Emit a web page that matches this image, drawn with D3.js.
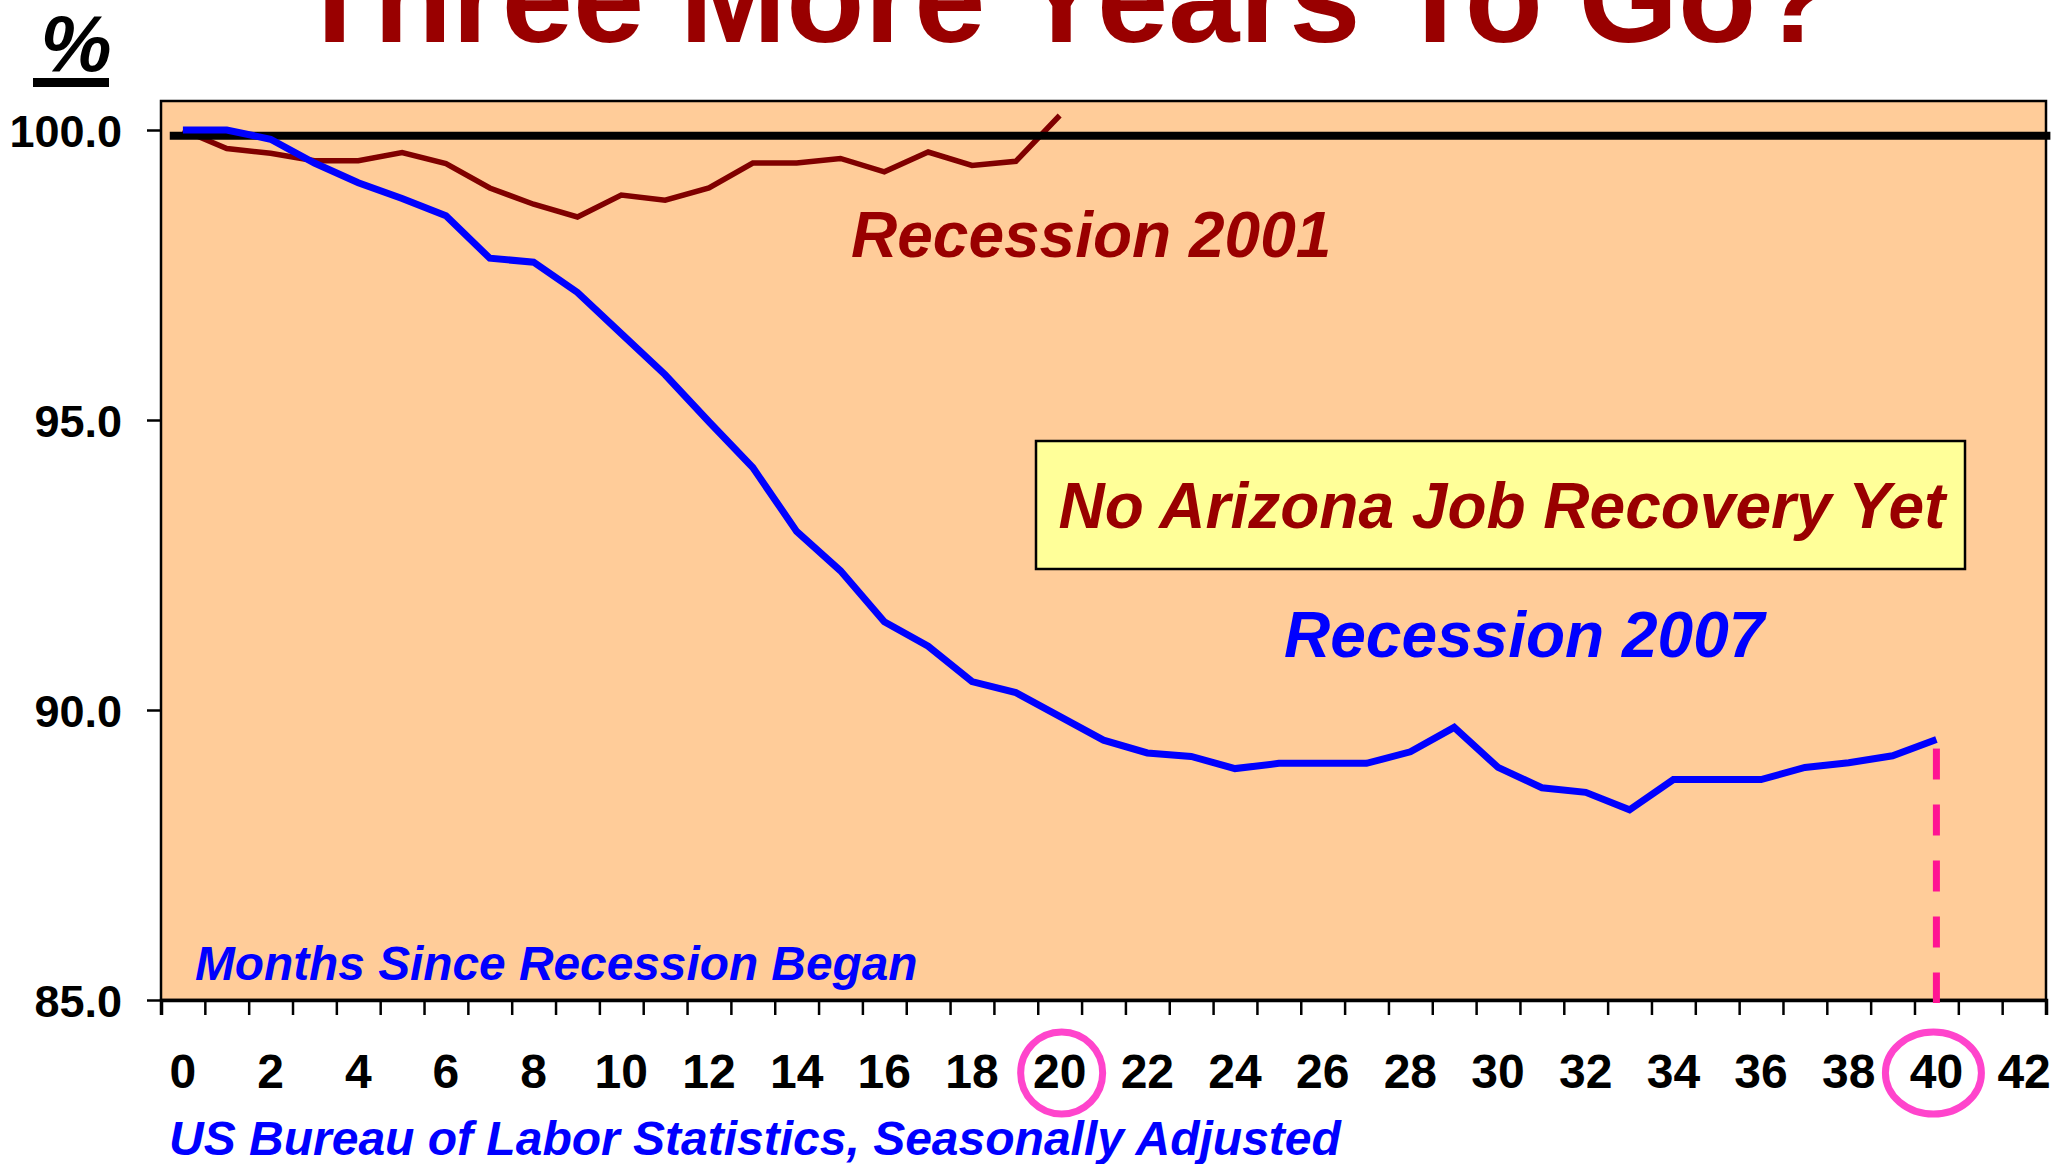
<!DOCTYPE html>
<html lang="en">
<head>
    <meta charset="UTF-8">
    <title>Three More Years To Go?</title>
    <style>
body {
    margin: 0;
    background: #ffffff;
    font-family: 'Liberation Sans', Arial, sans-serif;
}

#chart {
    display: block;
}

.tick-label {
    font-weight: bold;
    fill: #000;
}

.note {
    font-weight: bold;
    font-style: italic;
}
    </style>
    <script src="https://d3js.org/d3.v7.min.js"></script>
</head>
<body>

    <svg id="chart" width="2069" height="1164"></svg>

    <script>
        // Arizona jobs, % of level at start of recession, by month since it began
        const recession2007 = [100.0, 100.0, 99.84, 99.43, 99.09, 98.82, 98.52, 97.79, 97.72, 97.2,
            96.49, 95.78, 94.97, 94.18, 93.08, 92.4, 91.52, 91.1, 90.49, 90.3,
            89.89, 89.48, 89.26, 89.2, 88.99, 89.08, 89.08, 89.08, 89.28, 89.7,
            89.01, 88.66, 88.58, 88.28, 88.8, 88.8, 88.8, 89.01, 89.09, 89.21, 89.49];
        const recession2001 = [100.0, 99.68, 99.6, 99.47, 99.47, 99.61, 99.42, 99.0, 98.72, 98.5,
            98.88, 98.79, 99.0, 99.43, 99.43, 99.51, 99.28, 99.62, 99.39, 99.46, 100.25];
        const baseLevel = 99.9;
        const xTickLabels = [0, 2, 4, 6, 8, 10, 12, 14, 16, 18, 20, 22, 24, 26, 28, 30, 32, 34, 36, 38, 40, 42];
        const circledMonths = [20, 40];
        const lastMonth = 40;
        const yTicks = [85, 90, 95, 100];

        const svg = d3.select("#chart");

        const plotLeft = 161, plotRight = 2046, plotTop = 101, plotBottom = 1000;

        const x = d3.scaleLinear().domain([-0.5, 42.5]).range([plotLeft, plotRight]);
        const y = d3.scaleLinear().domain([85, 100.5]).range([plotBottom, plotTop]);

        // title (runs off the top of the slide)
        svg.append("text")
            .attr("x", 1065)
            .attr("y", 42)
            .attr("text-anchor", "middle")
            .attr("font-size", 128)
            .attr("font-weight", "bold")
            .attr("fill", "#990000")
            .text("Three More Years To Go?");

        // "%" unit label, underlined
        svg.append("text")
            .attr("x", 76)
            .attr("y", 71)
            .attr("text-anchor", "middle")
            .attr("font-size", 80)
            .attr("font-weight", "bold")
            .attr("font-style", "italic")
            .text("%");
        svg.append("rect")
            .attr("x", 33).attr("y", 78)
            .attr("width", 76).attr("height", 9)
            .attr("fill", "#000");

        // plot background
        svg.append("rect")
            .attr("x", plotLeft).attr("y", plotTop)
            .attr("width", plotRight - plotLeft).attr("height", plotBottom - plotTop)
            .attr("fill", "#ffcc99")
            .attr("stroke", "#000")
            .attr("stroke-width", 2.5);

        // y axis
        const yAxis = svg.append("g")
            .attr("transform", `translate(${plotLeft},0)`)
            .call(d3.axisLeft(y).tickValues(yTicks).tickSize(14).tickPadding(25).tickFormat(d3.format(".1f")));
        yAxis.select(".domain").remove();
        yAxis.selectAll(".tick line").attr("stroke-width", 2.5);
        yAxis.selectAll(".tick text")
            .attr("class", "tick-label")
            .attr("font-size", 45)
            .attr("font-family", "'Liberation Sans', Arial, sans-serif")
            .attr("dy", "0.36em");

        // x axis: ticks between months, labels on even months
        const xAxis = svg.append("g")
            .attr("transform", `translate(0,${plotBottom})`)
            .call(d3.axisBottom(x).tickValues(d3.range(-0.5, 43, 1)).tickSize(15).tickFormat(""));
        xAxis.select(".domain").attr("stroke-width", 3.5);
        xAxis.selectAll(".tick line").attr("stroke-width", 2.5);

        svg.append("g").selectAll("text")
            .data(xTickLabels)
            .join("text")
            .attr("class", "tick-label")
            .attr("x", d => x(d))
            .attr("y", 1088)
            .attr("text-anchor", "middle")
            .attr("font-size", 48)
            .text(d => d);

        // circles around month 20 and 40
        svg.append("g").selectAll("ellipse")
            .data(circledMonths)
            .join("ellipse")
            .attr("cx", d => x(d) + (d === 40 ? -3 : 2))
            .attr("cy", 1073)
            .attr("rx", d => d === 40 ? 48 : 41)
            .attr("ry", 41)
            .attr("fill", "none")
            .attr("stroke", "#ff44cc")
            .attr("stroke-width", 7);

        // dashed marker at the latest month
        svg.append("line")
            .attr("x1", x(lastMonth)).attr("x2", x(lastMonth))
            .attr("y1", y(recession2007[lastMonth]) + 9)
            .attr("y2", plotBottom + 3)
            .attr("stroke", "#ff1493")
            .attr("stroke-width", 7)
            .attr("stroke-dasharray", "31 25");

        const line = d3.line()
            .x((d, i) => x(i))
            .y(d => y(d));

        svg.append("path")
            .datum(recession2001)
            .attr("d", line)
            .attr("fill", "none")
            .attr("stroke", "#800000")
            .attr("stroke-width", 5.5);

        // 100% reference line
        svg.append("line")
            .attr("x1", x(-0.3)).attr("x2", x(42.6))
            .attr("y1", y(baseLevel)).attr("y2", y(baseLevel))
            .attr("stroke", "#000")
            .attr("stroke-width", 8);

        svg.append("path")
            .datum(recession2007)
            .attr("d", line)
            .attr("fill", "none")
            .attr("stroke", "#0000ff")
            .attr("stroke-width", 7);

        // annotations
        svg.append("text")
            .attr("class", "note")
            .attr("x", 851).attr("y", 257)
            .attr("font-size", 64)
            .attr("fill", "#990000")
            .text("Recession 2001");

        svg.append("rect")
            .attr("x", 1036).attr("y", 441)
            .attr("width", 929).attr("height", 128)
            .attr("fill", "#ffff99")
            .attr("stroke", "#000")
            .attr("stroke-width", 2.5);
        svg.append("text")
            .attr("class", "note")
            .attr("x", 1502).attr("y", 528)
            .attr("text-anchor", "middle")
            .attr("font-size", 64)
            .attr("fill", "#990000")
            .text("No Arizona Job Recovery Yet");

        svg.append("text")
            .attr("class", "note")
            .attr("x", 1284).attr("y", 657)
            .attr("font-size", 64)
            .attr("fill", "#0000ff")
            .text("Recession 2007");

        svg.append("text")
            .attr("class", "note")
            .attr("x", 195).attr("y", 980)
            .attr("font-size", 47.8)
            .attr("fill", "#0000ff")
            .text("Months Since Recession Began");

        svg.append("text")
            .attr("class", "note")
            .attr("x", 169).attr("y", 1155)
            .attr("font-size", 48)
            .attr("fill", "#0000ff")
            .text("US Bureau of Labor Statistics, Seasonally Adjusted");
    </script>
</body>
</html>
